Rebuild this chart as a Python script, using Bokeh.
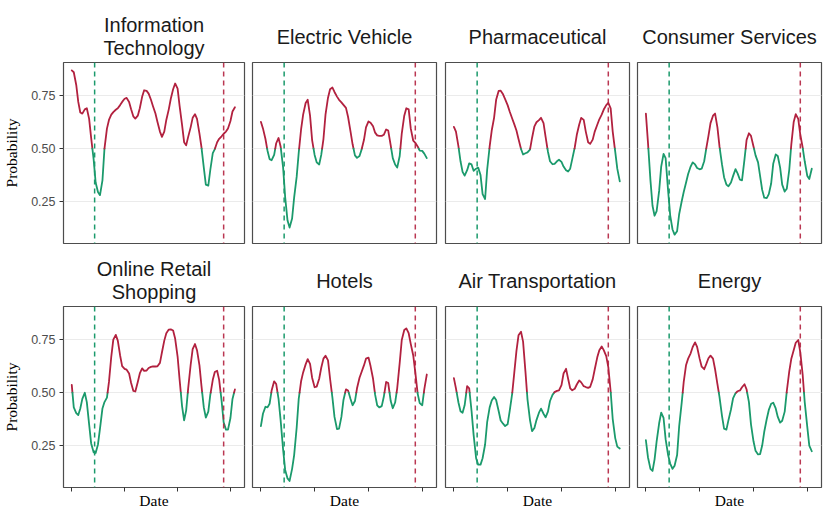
import numpy as np
import pandas as pd
from bokeh.plotting import figure
from bokeh.models import (Range1d, FixedTicker, Span, PrintfTickFormatter, CustomJSTickFormatter,
                          ColumnDataSource, Title)
from bokeh.layouts import column, row
from bokeh.embed import file_html
from bokeh.resources import INLINE

# ---------------- data ----------------
dates = pd.date_range("2019-01-01", periods=75, freq="SMS")

titles = [["Information", "Technology"], ["Electric Vehicle"], ["Pharmaceutical"], ["Consumer Services"],
          ["Online Retail", "Shopping"], ["Hotels"], ["Air Transportation"], ["Energy"]]

info_tech = [.869, .86, .80, .72, .67, .665, .685, .69, .64, .55,
             .45, .34, .295, .28, .35, .50, .594, .635, .66, .672,
             .683, .69, .705, .72, .735, .739, .72, .685, .652, .641,
             .655, .69, .744, .775, .772, .759, .73, .70, .665, .625,
             .58, .555, .58, .635, .685, .735, .78, .807, .783, .70,
             .61, .53, .515, .555, .60, .645, .662, .64, .57, .505,
             .41, .33, .325, .40, .478, .497, .53, .546, .558, .57,
             .58, .595, .63, .675, .695]
electric_vehicle = [.626, .595, .545, .49, .45, .445, .47, .525, .55, .51,
                    .41, .27, .16, .127, .17, .27, .366, .48, .59, .66,
                    .715, .73, .655, .54, .47, .435, .425, .47, .545, .66,
                    .74, .78, .788, .767, .745, .73, .718, .706, .692, .65,
                    .58, .52, .468, .456, .465, .495, .54, .60, .628, .622,
                    .605, .575, .562, .56, .56, .565, .59, .585, .515, .455,
                    .425, .41, .465, .571, .655, .69, .685, .595, .537, .527,
                    .51, .49, .489, .476, .455]
pharmaceutical = [.602, .58, .51, .44, .39, .372, .398, .43, .425, .395,
                  .405, .41, .375, .285, .262, .40, .51, .585, .645, .73,
                  .772, .773, .756, .733, .705, .675, .642, .615, .585, .545,
                  .498, .472, .478, .482, .495, .55, .605, .624, .634, .645,
                  .62, .555, .485, .44, .426, .428, .44, .447, .437, .415,
                  .398, .392, .405, .45, .505, .565, .612, .645, .635, .58,
                  .53, .522, .542, .58, .612, .638, .66, .684, .705, .715,
                  .69, .58, .485, .405, .345]
consumer_services = [.665, .53, .35, .23, .183, .205, .30, .415, .475, .455,
                     .30, .185, .118, .094, .11, .19, .25, .295, .34, .38,
                     .415, .435, .425, .408, .402, .405, .44, .50, .56, .62,
                     .655, .665, .60, .51, .425, .365, .33, .322, .34, .37,
                     .403, .383, .353, .35, .45, .54, .572, .56, .51, .468,
                     .435, .37, .305, .268, .266, .285, .335, .428, .472, .465,
                     .41, .33, .297, .31, .40, .52, .625, .662, .64, .565,
                     .505, .44, .372, .356, .405]
online_retail = [.536, .43, .403, .394, .425, .47, .499, .455, .35, .26,
                 .218, .215, .255, .33, .425, .455, .476, .55, .67, .75,
                 .772, .745, .675, .625, .612, .608, .59, .545, .508, .505,
                 .55, .59, .614, .602, .604, .616, .621, .623, .623, .624,
                 .64, .69, .745, .78, .797, .798, .793, .755, .67, .56,
                 .435, .369, .415, .52, .63, .705, .729, .70, .628, .53,
                 .43, .382, .41, .49, .56, .597, .603, .56, .46, .36,
                 .325, .325, .38, .47, .515]
hotels = [.342, .40, .433, .43, .447, .51, .553, .54, .47, .37,
          .23, .135, .095, .083, .14, .205, .334, .47, .553, .595,
          .633, .658, .635, .57, .525, .528, .565, .617, .66, .674,
          .652, .565, .476, .385, .328, .33, .385, .465, .515, .51,
          .47, .44, .46, .52, .57, .597, .628, .66, .665, .625,
          .565, .49, .44, .43, .436, .48, .55, .545, .46, .426,
          .453, .52, .64, .748, .795, .803, .78, .73, .675, .595,
          .495, .45, .44, .515, .585]
air_transport = [.568, .52, .453, .412, .405, .44, .53, .52, .413, .30,
                 .19, .16, .16, .19, .255, .36, .43, .462, .479, .465,
                 .413, .368, .353, .342, .35, .412, .495, .592, .697, .77,
                 .787, .74, .60, .468, .37, .318, .333, .37, .405, .424,
                 .40, .383, .41, .46, .489, .502, .508, .51, .535, .59,
                 .612, .565, .52, .511, .518, .538, .557, .548, .53, .526,
                 .522, .527, .562, .61, .666, .70, .717, .70, .672, .62,
                 .505, .375, .285, .245, .236]
energy = [.275, .195, .14, .13, .185, .27, .355, .405, .38, .28,
          .205, .165, .14, .155, .205, .34, .45, .55, .63, .66,
          .685, .715, .737, .715, .66, .622, .61, .634, .662, .674,
          .66, .61, .54, .48, .39, .33, .325, .37, .42, .472,
          .497, .506, .51, .525, .539, .515, .455, .35, .27, .225,
          .208, .21, .25, .315, .375, .418, .447, .452, .425, .385,
          .358, .367, .41, .505, .60, .66, .70, .735, .748, .69,
          .585, .455, .34, .25, .223]

series = [info_tech, electric_vehicle, pharmaceutical, consumer_services,
          online_retail, hotels, air_transport, energy]

green_event = "2019-06-08"
red_event = "2021-11-15"
x_start, x_end = "2018-11-05", "2022-04-08"
x_tick_dates = ["2019-01-01", "2020-01-01", "2021-01-01", "2022-01-01"]
y_ticks = [0.25, 0.50, 0.75]
y_lo, y_hi = 0.052, 0.906
threshold = 0.5

# ---------------- style ----------------
RED = "#B2213F"
GREEN = "#1B9A6C"
SANS = "Liberation Sans"
SERIF = "Liberation Serif"


def ms(d):
    return pd.Timestamp(d).value / 1e6


x_ms = dates.values.astype("datetime64[ms]").astype("int64").astype(float)


def split_runs(x, y, thr):
    runs = []
    cx, cy = [x[0]], [y[0]]
    cur = y[0] >= thr
    for i in range(1, len(x)):
        above = y[i] >= thr
        if above != cur:
            t = (thr - y[i - 1]) / (y[i] - y[i - 1])
            xc = x[i - 1] + t * (x[i] - x[i - 1])
            cx.append(xc); cy.append(thr)
            runs.append((cx, cy, cur))
            cx, cy = [xc], [thr]
            cur = above
        cx.append(x[i]); cy.append(y[i])
    runs.append((cx, cy, cur))
    return runs


left_b = [60, 4, 4, 4]
right_b = [4, 5, 4, 8]
top_b = [62, 56]
bot_b = [7, 33]
FW, FH = 184, 181
x0, x1 = ms(x_start), ms(x_end)


def make_title(txt, standoff, size="20px", font=SANS, color="#1A1A1A", offset=0):
    return Title(text=txt, align="center", text_font=font, text_font_size=size,
                 text_font_style="normal", text_color=color, standoff=standoff, offset=offset)


figs = []
for i, (ttl, vals) in enumerate(zip(titles, series)):
    r, c = divmod(i, 4)
    p = figure(width=left_b[c] + FW + right_b[c], height=top_b[r] + FH + bot_b[r],
               x_axis_type="datetime", title_location=None,
               x_axis_location="below" if r == 1 else None,
               y_axis_location="left" if c == 0 else None,
               x_range=Range1d(x0, x1), y_range=Range1d(y_lo, y_hi),
               output_backend="svg", toolbar_location=None,
               min_border_left=left_b[c], min_border_right=right_b[c],
               min_border_top=top_b[r], min_border_bottom=bot_b[r])
    p.background_fill_color = "white"
    p.border_fill_color = "white"
    p.outline_line_color = "#4D4D4D"
    p.outline_line_width = 1.2

    if len(ttl) == 2:
        p.add_layout(make_title(ttl[1], 7), "above")
        p.add_layout(make_title(ttl[0], -8), "above")
    else:
        p.add_layout(make_title(ttl[0], 28.5), "above")

    p.xgrid.visible = False
    p.ygrid.ticker = FixedTicker(ticks=y_ticks)
    p.ygrid.grid_line_color = "#EBEBEB"
    p.ygrid.grid_line_width = 1.1

    if c == 0:
        ax = p.yaxis[0]
        ax.ticker = FixedTicker(ticks=y_ticks)
        ax.formatter = PrintfTickFormatter(format="%.2f")
        ax.axis_label = "Probability"
        ax.axis_label_text_font = SERIF
        ax.axis_label_text_font_size = "15.5px"
        ax.axis_label_text_font_style = "normal"
        ax.axis_label_text_color = "black"
        ax.axis_label_standoff = 8
        ax.major_label_text_font = SANS
        ax.major_label_text_font_size = "12.5px"
        ax.major_label_text_color = "#4D4D4D"
        ax.major_label_standoff = 4
        ax.major_tick_out = 4
        ax.major_tick_in = 0
        ax.major_tick_line_color = "#333333"
        ax.minor_tick_line_color = None
        ax.axis_line_color = None
    if r == 1:
        ax = p.xaxis[0]
        ax.ticker = FixedTicker(ticks=[ms(d) for d in x_tick_dates])
        ax.formatter = CustomJSTickFormatter(code="return ''")
        ax.major_label_text_font_size = "0px"
        ax.major_label_standoff = 0
        ax.major_tick_out = 4
        ax.major_tick_in = 0
        ax.major_tick_line_color = "#333333"
        ax.minor_tick_line_color = None
        ax.axis_line_color = None
        # x-axis title, placed below the tick marks
        p.add_layout(make_title("Date", -3.5, size="15.5px", font=SERIF, color="black", offset=4), "below")

    runs = split_runs(list(x_ms), list(vals), threshold)
    src = ColumnDataSource(dict(xs=[ru[0] for ru in runs], ys=[ru[1] for ru in runs],
                                col=[RED if ru[2] else GREEN for ru in runs]))
    p.multi_line("xs", "ys", source=src, line_color="col", line_width=1.8,
                 line_join="round", line_cap="round")

    p.add_layout(Span(location=ms(green_event), dimension="height", line_color=GREEN,
                      line_dash="5 4", line_width=1.5))
    p.add_layout(Span(location=ms(red_event), dimension="height", line_color=RED,
                      line_dash="5 4", line_width=1.5, line_alpha=0.9))
    figs.append(p)

layout = column(row(*figs[:4]), row(*figs[4:]))
open("out.html", "w").write(file_html(layout, INLINE))
